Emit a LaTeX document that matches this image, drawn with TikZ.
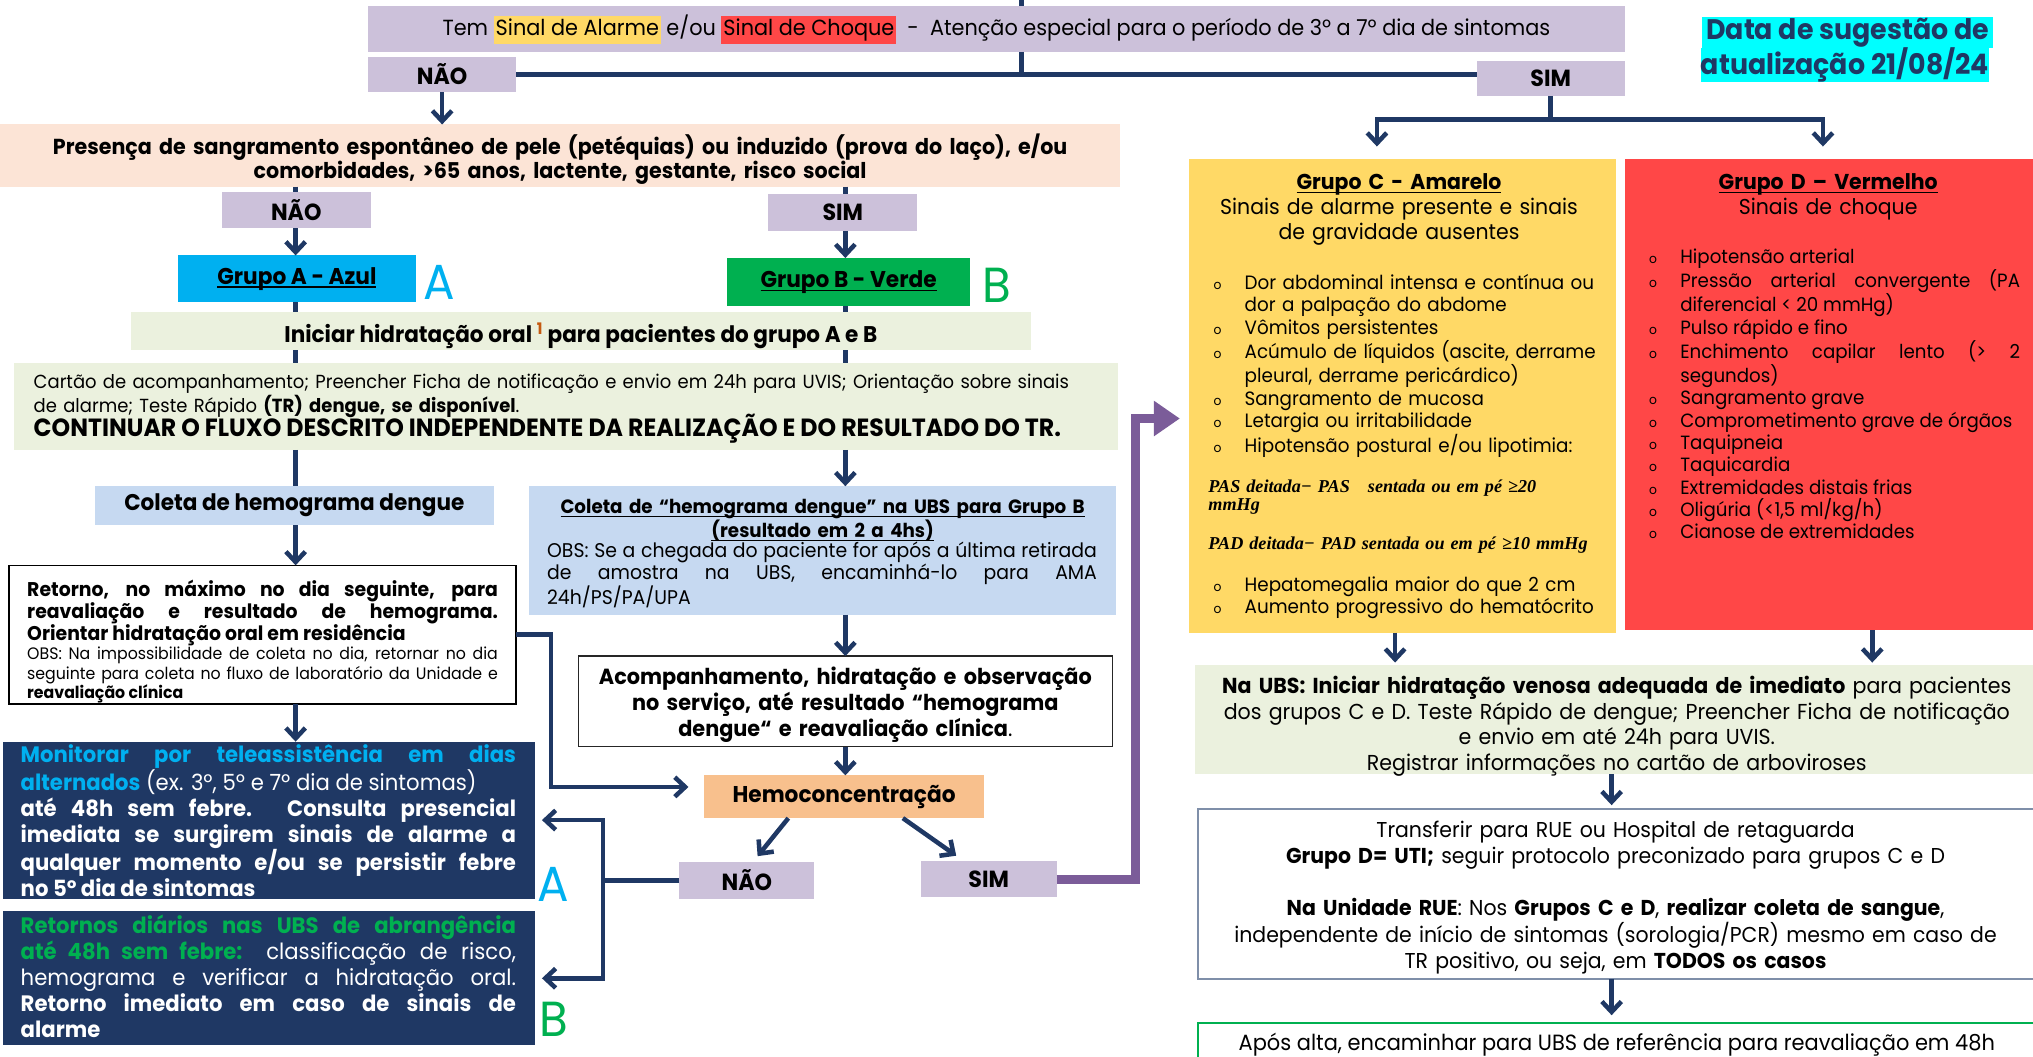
\documentclass[tikz,border=0pt]{standalone}
\usepackage{fontspec}
\setmainfont{Poppins}[FakeStretch=0.95]
\newfontfamily\mserif{Liberation Serif}
\usetikzlibrary{arrows.meta}
\definecolor{navy}{HTML}{1F3864}
\definecolor{lav}{HTML}{CCC1DA}
\definecolor{peach}{HTML}{FCE4D6}
\definecolor{lgreen}{HTML}{EBF1DE}
\definecolor{lblue}{HTML}{C6D9F1}
\definecolor{orng}{HTML}{F8C08D}
\definecolor{yelC}{HTML}{FFD966}
\definecolor{redD}{HTML}{FF4747}
\definecolor{cyanA}{HTML}{00B0F0}
\definecolor{greenB}{HTML}{00B050}
\definecolor{purp}{HTML}{7B5C99}
\definecolor{aqua}{HTML}{00FFFF}
\definecolor{supor}{HTML}{C55A11}
\definecolor{frame}{HTML}{7F8FA9}
\newcommand\fsz[2]{\fontsize{#1}{#2}\selectfont}
\newcommand\hlt[2]{{\setlength{\fboxsep}{1.5pt}\colorbox{#1}{\strut #2}}}
\newcommand\uln[1]{\leavevmode\setbox0=\hbox{#1}\rlap{\rule[-2.8pt]{\wd0}{1.1pt}}\box0}
\newcommand\bul{\makebox[24pt][l]{\fsz{10}{12}o}}
\newcommand\bitemF{\hangindent=24pt\hangafter=1\bul}
\newcommand\bitem{\par\hangindent=24pt\hangafter=1\noindent\bul}
\begin{document}
\begin{tikzpicture}[x=1pt,y=-1pt,
  bx/.style={inner sep=0pt, outer sep=0pt},
  tx/.style={inner sep=0pt, outer sep=0pt, anchor=base},
  txl/.style={inner sep=0pt, outer sep=0pt, anchor=base west},
  ln/.style={draw=navy, line width=3.5pt},
  arr/.style={draw=navy, line width=3.5pt, -{Straight Barb[length=8pt,width=15pt]}},
  parr/.style={draw=purp, line width=7pt, -{Triangle[length=20pt,width=26pt]}},
  lavbox/.style={bx, fill=lav, font=\fsz{18}{20}\bfseries},
  bigl/.style={bx, font=\fsz{38}{40}},
]
\useasboundingbox (0,0) rectangle (1568,815);
\clip (0,0) rectangle (1568,815);
% columns
\coordinate (topin) at (788,0);
\coordinate (colA) at (228,0);
\coordinate (colB) at (652,0);
\coordinate (colCt) at (1062,0);
\coordinate (colDt) at (1406,0);
\coordinate (colC) at (1076,0);
\coordinate (colD) at (1444,0);
\coordinate (colR) at (1243,0);
% boxes
\node[bx, fill=lav, minimum width=969, minimum height=35] (top) at (768.5,22.5) {};
\node[lavbox, minimum width=114, minimum height=27] (nao1) at (341,57.5) {NÃO};
\node[lavbox, minimum width=114, minimum height=27] (sim1) at (1196,60.5) {SIM};
\node[bx, fill=peach, minimum width=864, minimum height=48] (peach) at (432,120) {};
\node[lavbox, minimum width=115, minimum height=28] (nao2) at (228.5,162) {NÃO};
\node[lavbox, minimum width=115, minimum height=28] (sim2) at (650,164) {SIM};
\node[bx, fill=cyanA, minimum width=184, minimum height=36, font=\fsz{17.6}{20}\bfseries] (grpA) at (229,215) {\uln{Grupo A - Azul}};
\node[bx, fill=greenB, minimum width=187, minimum height=37, font=\fsz{17.6}{20}\bfseries] (grpB) at (654.5,217.5) {\uln{Grupo B - Verde}};
\node[bx, fill=lgreen, minimum width=694, minimum height=29] (hyd) at (448,255.5) {};
\node[bx, fill=lgreen, minimum width=851, minimum height=67] (cartao) at (436.5,313.5) {};
\node[bx, fill=lblue, minimum width=308, minimum height=30, font=\fsz{17.5}{20}\bfseries] (coletaA) at (227,390) {Coleta de hemograma dengue};
\node[bx, draw=black, line width=1pt, minimum width=391, minimum height=107] (retorno) at (202.5,489.5) {};
\node[bx, fill=navy, minimum width=411, minimum height=121] (monit) at (207.5,632.5) {};
\node[bx, fill=navy, minimum width=411, minimum height=103] (retornos) at (207.5,754.5) {};
\node[bx, fill=lblue, minimum width=453, minimum height=99] (coletaB) at (634.5,424.5) {};
\node[bx, draw=black!85, line width=1pt, minimum width=412, minimum height=70] (acomp) at (652,541) {};
\node[bx, fill=orng, minimum width=216, minimum height=33, font=\fsz{17.6}{20}\bfseries] (hemo) at (651,614.5) {Hemoconcentração};
\node[lavbox, minimum width=104, minimum height=28] (nao3) at (576,679) {NÃO};
\node[lavbox, minimum width=105, minimum height=28] (sim3) at (762.5,678) {SIM};
\node[bx, fill=yelC, minimum width=329, minimum height=365] (grpC) at (1081.5,305.5) {};
\node[bx, fill=redD, minimum width=319, minimum height=363] (grpD) at (1412.5,304.5) {};
\node[bx, fill=lgreen, minimum width=650, minimum height=84] (ubs) at (1247,555) {};
\node[bx, draw=frame, line width=1.2pt, minimum width=650, minimum height=131] (transf) at (1249,689.5) {};
\node[bx, draw=greenB, line width=1pt, minimum width=650, minimum height=50] (apos) at (1249,814) {};
% date
\node[bx, fill=aqua, minimum width=224, minimum height=24, font=\fsz{21.8}{24}\bfseries, text=navy] (date1) at (1425,25) {Data de sugestão de};
\node[bx, fill=aqua, minimum width=220, minimum height=24, font=\fsz{21.8}{24}\bfseries, text=navy] (date2) at (1423,50) {atualização 21/08/24};
% letters
\node[bigl, text=cyanA] (letA1) at (339,218) {A};
\node[bigl, text=greenB] (letB1) at (769,220) {B};
\node[bigl, text=cyanA] (letA2) at (427,682) {A};
\node[bigl, text=greenB] (letB2) at (427,786) {B};
% texts
\node[tx, font=\fsz{16.9}{19}] (ttop) at (768.5,27) {Tem \hlt{yelC}{Sinal de Alarme} e/ou \hlt{redD}{Sinal de Choque}~~-~~Atenção especial para o período de 3º a 7º dia de sintomas};
\node[tx, text width=860, align=center, font=\fsz{16.75}{19}\bfseries] (tpeach) at (432,119) {Presença de sangramento espontâneo de pele (petéquias) ou induzido (prova do laço), e/ou\\comorbidades, >65 anos, lactente, gestante, risco social};
\node[tx, font=\fsz{17.5}{19}\bfseries] (thyd) at (448,264) {Iniciar hidratação oral {\color{supor}\textsuperscript{1}} para pacientes do grupo A e B};
\node[txl, text width=840, align=left, font=\fsz{14.6}{17}] (tcart) at (26,300) {Cartão de acompanhamento; Preencher Ficha de notificação e envio em 24h para UVIS; Orientação sobre sinais\\de alarme; Teste Rápido \textbf{(TR) dengue, se disponível}.};
\node[txl, font=\fsz{19.2}{21}\bfseries] (tcont) at (26,337) {CONTINUAR O FLUXO DESCRITO INDEPENDENTE DA REALIZAÇÃO E DO RESULTADO DO TR.};
\node[txl, text width=363, align=justify, font=\fsz{15.3}{17}\bfseries] (tret1) at (21,460) {Retorno, no máximo no dia seguinte, para\linebreak reavaliação e resultado de hemograma.\linebreak Orientar hidratação oral em residência};
\node[txl, text width=363, align=justify, font=\fsz{12.8}{15}] (tret2) at (21,509) {OBS: Na impossibilidade de coleta no dia, retornar no dia\linebreak seguinte para coleta no fluxo de laboratório da Unidade e\linebreak \textbf{reavaliação clínica}};
\node[txl, text width=382, align=justify, font=\fsz{17.2}{20}, text=white] (tmon) at (16,588) {{\color{cyanA}\bfseries Monitorar por teleassistência em dias\linebreak alternados} (ex. 3º, 5º e 7º dia de sintomas)\newline \bfseries até 48h sem febre. Consulta presencial\linebreak imediata se surgirem sinais de alarme a\linebreak qualquer momento e/ou se persistir febre\linebreak no 5º dia de sintomas};
\node[txl, text width=382, align=justify, font=\fsz{17.2}{20}, text=white] (tretn) at (16,720) {{\color{greenB}\bfseries Retornos diários nas UBS de abrangência\linebreak até 48h sem febre:} classificação de risco,\linebreak hemograma e verificar a hidratação oral.\linebreak \textbf{Retorno imediato em caso de sinais de\linebreak alarme}};
\node[tx, text width=445, align=center, font=\fsz{14.85}{17}\bfseries] (tcolB) at (634.5,396) {\uln{Coleta de “hemograma dengue” na UBS para Grupo B}\\\uln{(resultado em 2 a 4hs)}};
\node[txl, text width=424, align=justify, font=\fsz{15.3}{17}] (tobsB) at (422,430) {OBS: Se a chegada do paciente for após a última retirada\linebreak de amostra na UBS, encaminhá-lo para AMA\linebreak 24h/PS/PA/UPA};
\node[tx, text width=408, align=center, font=\fsz{16.9}{20}\bfseries] (tacomp) at (652,528) {Acompanhamento, hidratação e observação\\no serviço, até resultado “hemograma\\dengue“ e reavaliação clínica{\mdseries .}};
% group C
\node[tx, text width=325, align=center, font=\fsz{16.6}{19.5}] (tC) at (1079,146) {\textbf{\uln{Grupo C - Amarelo}}\\Sinais de alarme presente e sinais\\de gravidade ausentes};
\node[txl, text width=305, align=left, font=\fsz{14.9}{17.3}] (tCl1) at (936,223) {\bitemF Dor abdominal intensa e contínua ou\newline dor a palpação do abdome
\bitem Vômitos persistentes
\bitem Acúmulo de líquidos (ascite, derrame\newline pleural, derrame pericárdico)
\bitem Sangramento de mucosa
\bitem Letargia ou irritabilidade
\bitem Hipotensão postural e/ou lipotimia:};
\node[txl, text width=300, align=left, font=\fsz{14}{14}\mserif\bfseries\itshape] (tpas) at (932,380) {PAS deitada− PAS\quad sentada ou em pé ≥20\\mmHg};
\node[txl, text width=310, align=left, font=\fsz{14}{14}\mserif\bfseries\itshape] (tpad) at (932,424) {PAD deitada− PAD sentada ou em pé ≥10 mmHg};
\node[txl, text width=305, align=left, font=\fsz{14.9}{17.3}] (tCl2) at (936,456) {\bitemF Hepatomegalia maior do que 2 cm
\bitem Aumento progressivo do hematócrito};
% group D
\node[tx, text width=300, align=center, font=\fsz{16.6}{19.5}] (tD) at (1410,146) {\textbf{\uln{Grupo D – Vermelho}}\\Sinais de choque};
\node[txl, text width=286, align=justify, font=\fsz{14.8}{17.2}] (tDl) at (1272,203) {\bitemF Hipotensão arterial
\bitem Pressão arterial convergente (PA\linebreak diferencial < 20 mmHg)
\bitem Pulso rápido e fino
\bitem Enchimento capilar lento (> 2\linebreak segundos)
\bitem Sangramento grave
\bitem Comprometimento grave de órgãos
\bitem Taquipneia
\bitem Taquicardia
\bitem Extremidades distais frias
\bitem Oligúria (<1,5 ml/kg/h)
\bitem Cianose de extremidades};
% right column texts
\node[tx, text width=644, align=center, font=\fsz{16.7}{19.7}] (tubs) at (1247,535) {\textbf{Na UBS: Iniciar hidratação venosa adequada de imediato} para pacientes\\dos grupos C e D. Teste Rápido de dengue; Preencher Ficha de notificação\\e envio em até 24h para UVIS.\\Registrar informações no cartão de arboviroses};
\node[tx, text width=644, align=center, font=\fsz{16.6}{20}] (ttr) at (1246,646) {Transferir para RUE ou Hospital de retaguarda\\\textbf{Grupo D= UTI;} seguir protocolo preconizado para grupos C e D\\[20pt]\textbf{Na Unidade RUE}: Nos \textbf{Grupos C e D}, \textbf{realizar coleta de sangue},\\independente de início de sintomas (sorologia/PCR) mesmo em caso de\\TR positivo, ou seja, em \textbf{TODOS os casos}};
\node[tx, font=\fsz{17}{19}] (tapos) at (1247,810) {Após alta, encaminhar para UBS de referência para reavaliação em 48h};
% connectors
\draw[ln] (topin) -- (top.north -| topin);
\draw[ln] (top.south -| topin) -- (topin |- nao1.east);
\draw[ln, line width=4.5pt] (nao1.east) -- (sim1.west |- nao1.east);
\draw[arr] (nao1.south) -- (peach.north -| nao1.south);
\draw[ln] (peach.south -| colA) -- (nao2.north -| colA);
\draw[ln] (peach.south -| colB) -- (sim2.north -| colB);
\draw[arr] (nao2.south -| colA) -- (grpA.north -| colA);
\draw[arr] (sim2.south -| colB) -- (grpB.north -| colB);
\draw[ln] (grpA.south -| colA) -- (hyd.north -| colA);
\draw[ln] (grpB.south -| colB) -- (hyd.north -| colB);
\draw[ln] (hyd.south -| colA) -- (cartao.north -| colA);
\draw[ln] (hyd.south -| colB) -- (cartao.north -| colB);
\draw[ln] (cartao.south -| colA) -- (coletaA.north -| colA);
\draw[arr] (cartao.south -| colB) -- (coletaB.north -| colB);
\draw[arr] (coletaA.south -| colA) -- (retorno.north -| colA);
\draw[arr] (retorno.south -| colA) -- (monit.north -| colA);
\draw[arr] (coletaB.south -| colB) -- (acomp.north -| colB);
\draw[arr] (acomp.south -| colB) -- (hemo.north -| colB);
\draw[arr, shorten >=12pt] (retorno.east) -- ++(27,0) |- (hemo.176);
\draw[arr, shorten >=6pt] (hemo.201) -- (nao3.72);
\draw[arr, shorten >=7pt] (hemo.340) -- (sim3.144);
\draw[ln] (nao3.west) -- ++(-59,0) coordinate (split);
\draw[arr, shorten >=5pt] (split) |- (monit.east);
\draw[arr, shorten >=5pt] (split) |- (retornos.east);
\draw[parr, shorten >=7pt] (sim3.east) -- ++(61,0) |- (grpC.186);
\draw[ln] (sim1.south) -- ++(0,18) coordinate (fork);
\coordinate (cTopC) at (grpC.north -| colCt);
\coordinate (cTopD) at (grpD.north -| colDt);
\draw[arr, shorten >=10pt] (fork) -| (cTopC);
\draw[arr, shorten >=10pt] (fork) -| (cTopD);
\draw[arr, shorten >=2pt] (grpC.south -| colC) -- (ubs.north -| colC);
\draw[arr, shorten >=2pt] (grpD.south -| colD) -- (ubs.north -| colD);
\draw[arr, shorten >=3pt] (ubs.south -| colR) -- (transf.north -| colR);
\draw[arr, shorten >=6pt] (transf.south -| colR) -- (apos.north -| colR);
\end{tikzpicture}
\end{document}
